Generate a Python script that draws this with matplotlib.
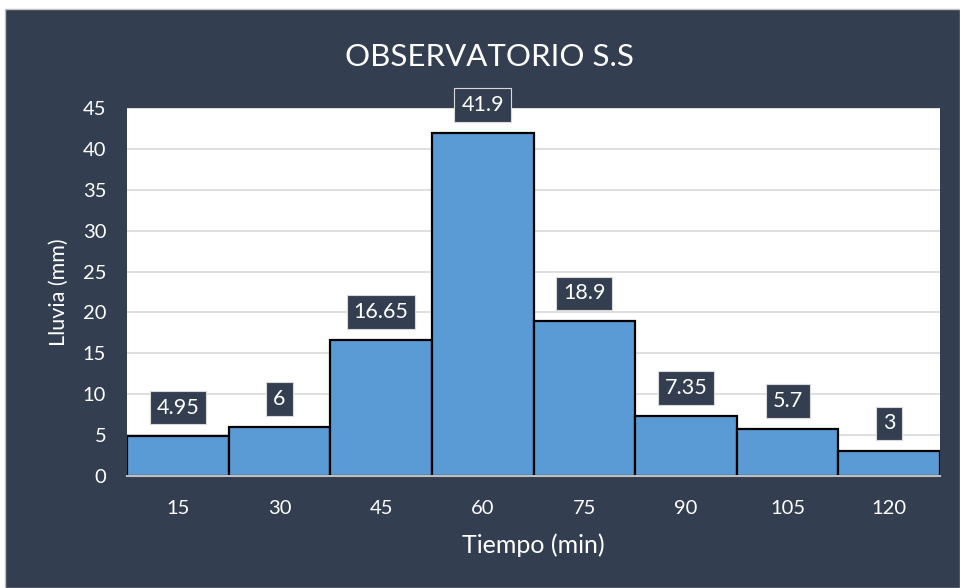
import matplotlib
matplotlib.use("Agg")
import matplotlib.pyplot as plt
from matplotlib.patches import Rectangle

plt.rcParams['font.family'] = ['Lato', 'DejaVu Sans']

# Rainfall per 15-minute interval
tiempo = [15, 30, 45, 60, 75, 90, 105, 120]
lluvia = [4.95, 6, 16.65, 41.9, 18.9, 7.35, 5.7, 3]
y_ticks = list(range(0, 50, 5))

bg = '#333F50'
bar_color = '#5B9BD5'

fig = plt.figure(figsize=(9.6, 5.88), dpi=100)
fig.patch.set_facecolor('white')
# dark chart panel with a thin light frame
fig.patches.append(Rectangle((5 / 960, 0), 1 - 5 / 960, 1 - 9 / 588,
                             transform=fig.transFigure, facecolor=bg,
                             edgecolor='#BFBFBF', linewidth=1, zorder=-10))

ax = fig.add_axes([127 / 960, 1 - 476 / 588, (940 - 127) / 960, (476 - 108) / 588])
ax.set_zorder(1)
ax.set_facecolor('white')

x = list(range(len(tiempo)))
bars = ax.bar(x, lluvia, width=1.0, color=bar_color, edgecolor='black',
              linewidth=1.6, zorder=3)

ax.set_xlim(-0.5, len(tiempo) - 0.5)
ax.set_ylim(0, 45)
ax.set_yticks(y_ticks)
ax.set_xticks(x)
ax.set_xticklabels([str(t) for t in tiempo])
ax.yaxis.grid(True, color='#D9D9D9', linewidth=1.2, zorder=0)
ax.set_axisbelow(True)

for side in ['top', 'right', 'left']:
    ax.spines[side].set_visible(False)
ax.spines['bottom'].set_color('#BFBFBF')
ax.spines['bottom'].set_linewidth(1.5)
ax.spines['bottom'].set_zorder(4)

ax.tick_params(axis='both', length=0, colors='white', labelsize=14.5)
ax.tick_params(axis='x', pad=17)
ax.tick_params(axis='y', pad=15)

ax.set_xlabel('Tiempo (min)', color='white', fontsize=18)
ax.xaxis.set_label_coords(0.5, -0.155)

# y-axis title placed in figure coordinates
fig.text(59 / 960, 1 - 292 / 588, 'Lluvia (mm)', color='white', fontsize=15.5,
         rotation=90, ha='center', va='center')

fig.text(0.51, 1 - 57 / 588, 'OBSERVATORIO S.S', color='white', fontsize=22.5,
         ha='center', va='center')

for xi, v in zip(x, lluvia):
    ax.annotate(f'{v:g}', xy=(xi, v), xytext=(0, 28), textcoords='offset pixels',
                ha='center', va='center', color='white', fontsize=15.5,
                bbox=dict(boxstyle='square,pad=0.32', facecolor=bg,
                          edgecolor='#D9D9D9', linewidth=0.8),
                zorder=5, annotation_clip=False)

fig.savefig('out.png', dpi=100, facecolor=fig.get_facecolor())
